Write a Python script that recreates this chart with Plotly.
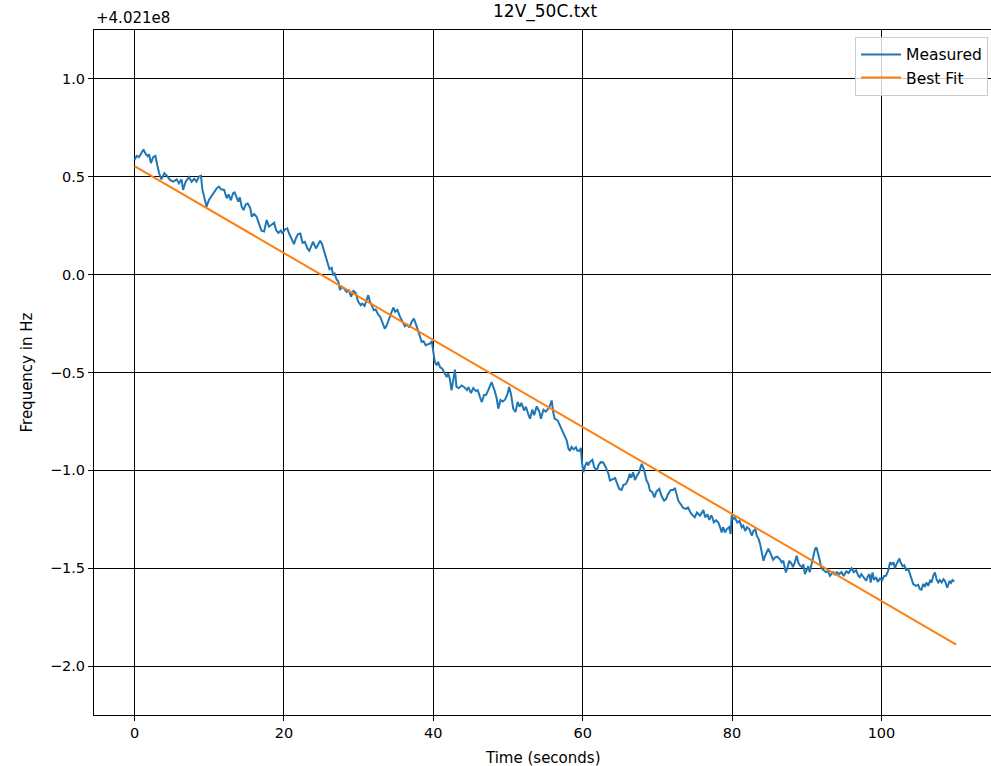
import plotly.graph_objects as go

# ---- data (frequency offset from 4.021e8 Hz) ----
time_s = [0.0, 0.3, 0.6, 0.87, 1.2, 1.5, 1.75, 1.95, 2.2, 2.5, 2.8, 3.05, 3.3, 3.6, 4.0, 4.35, 4.75, 5.2, 5.65, 5.95,
          6.3, 6.5, 6.85, 7.3, 7.65, 8.0, 8.3, 8.6, 8.9, 9.1, 9.4, 9.65, 9.95, 10.3, 10.7, 11.0, 11.3, 11.6, 12.0, 12.35,
          12.6, 12.9, 13.2, 13.4, 13.9, 14.1, 14.35, 14.6, 14.9, 15.15, 15.5, 15.7, 16.0, 16.35, 16.65, 17.0, 17.35, 17.7, 18.0, 18.4,
          18.7, 18.95, 19.25, 19.6, 19.8, 20.15, 20.45, 20.7, 21.05, 21.35, 21.6, 21.9, 22.2, 22.5, 22.8, 23.15, 23.4, 23.7, 23.9, 24.3,
          24.6, 24.85, 25.1, 25.35, 25.65, 25.95, 26.1, 26.4, 26.6, 26.8, 27.05, 27.3, 27.5, 27.75, 28.05, 28.4, 28.65, 29.0, 29.3, 29.6,
          29.95, 30.3, 30.5, 30.8, 31.1, 31.3, 31.5, 31.8, 32.05, 32.3, 32.6, 32.9, 33.2, 33.5, 33.7, 34.0, 34.3, 34.65, 34.9, 35.2,
          35.55, 35.9, 36.2, 36.5, 36.8, 37.1, 37.4, 37.8, 38.1, 38.45, 38.7, 39.0, 39.25, 39.55, 39.8, 40.0, 40.2, 40.45, 40.65, 40.9,
          41.2, 41.45, 41.8, 42.0, 42.2, 42.45, 42.7, 42.9, 43.1, 43.4, 43.8, 44.15, 44.5, 44.7, 45.05, 45.35, 45.7, 45.95, 46.25, 46.5,
          46.8, 47.05, 47.35, 47.6, 47.8, 48.2, 48.5, 48.7, 49.0, 49.3, 49.6, 49.95, 50.15, 50.4, 50.7, 51.0, 51.3, 51.55, 51.8, 52.15,
          52.4, 52.7, 52.95, 53.25, 53.5, 53.85, 54.2, 54.4, 54.75, 55.05, 55.4, 55.6, 55.85, 56.05, 56.25, 56.65, 56.95, 57.3, 57.65, 57.85,
          58.1, 58.3, 58.5, 58.8, 59.1, 59.3, 59.6, 59.75, 59.9, 60.1, 60.3, 60.55, 60.75, 60.95, 61.3, 61.55, 61.9, 62.1, 62.4, 62.75,
          63.1, 63.45, 63.65, 64.0, 64.35, 64.55, 64.9, 65.2, 65.45, 65.8, 66.1, 66.3, 66.5, 66.75, 67.0, 67.25, 67.55, 67.9, 68.15, 68.35,
          68.55, 68.8, 69.0, 69.3, 69.6, 69.85, 70.25, 70.55, 70.9, 71.15, 71.45, 71.8, 72.1, 72.35, 72.55, 72.8, 73.1, 73.45, 73.8, 74.1,
          74.5, 75.0, 75.3, 75.7, 75.9, 76.15, 76.4, 76.7, 76.95, 77.2, 77.35, 77.55, 77.85, 78.15, 78.4, 78.6, 78.8, 79.05, 79.3, 79.6,
          79.8, 79.95, 80.15, 80.35, 80.7, 81.0, 81.3, 81.5, 81.75, 82.0, 82.3, 82.65, 82.85, 83.1, 83.3, 83.55, 83.75, 83.95, 84.2, 84.4,
          84.65, 84.85, 85.1, 85.3, 85.5, 85.75, 86.05, 86.35, 86.65, 86.85, 87.1, 87.2, 87.4, 87.65, 87.95, 88.15, 88.4, 88.65, 88.85, 89.1,
          89.35, 89.55, 89.75, 90.0, 90.2, 90.4, 90.6, 90.85, 91.1, 91.3, 91.5, 91.75, 91.95, 92.3, 92.55, 92.85, 93.1, 93.3, 93.55, 93.75,
          94.0, 94.35, 94.65, 94.95, 95.3, 95.6, 96.0, 96.3, 96.6, 96.9, 97.1, 97.3, 97.6, 97.95, 98.2, 98.4, 98.55, 98.8, 99.0, 99.3,
          99.5, 99.8, 100.1, 100.35, 100.6, 100.9, 101.15, 101.35, 101.6, 101.8, 102.0, 102.25, 102.4, 102.55, 102.85, 103.05, 103.3, 103.6, 103.8, 104.0,
          104.25, 104.6, 104.9, 105.15, 105.35, 105.6, 105.8, 106.0, 106.25, 106.5, 106.7, 106.95, 107.15, 107.4, 107.6, 107.8, 108.05, 108.3, 108.5, 108.8,
          109.1, 109.3, 109.5, 109.75]

freq_measured = [0.586, 0.607, 0.600, 0.617, 0.640, 0.617, 0.605, 0.615, 0.570, 0.600, 0.607, 0.560, 0.518, 0.487, 0.518, 0.505, 0.484, 0.475, 0.487, 0.467,
                 0.487, 0.433, 0.475, 0.498, 0.475, 0.490, 0.475, 0.500, 0.505, 0.433, 0.390, 0.347, 0.380, 0.400, 0.424, 0.441, 0.450, 0.436, 0.433, 0.390,
                 0.410, 0.380, 0.416, 0.420, 0.373, 0.395, 0.347, 0.330, 0.360, 0.364, 0.340, 0.296, 0.310, 0.296, 0.262, 0.224, 0.220, 0.279, 0.245, 0.255,
                 0.265, 0.228, 0.214, 0.225, 0.210, 0.231, 0.236, 0.210, 0.177, 0.156, 0.185, 0.207, 0.210, 0.163, 0.168, 0.134, 0.122, 0.146, 0.168, 0.134,
                 0.160, 0.173, 0.157, 0.125, 0.091, 0.040, 0.028, 0.035, -0.003, 0.005, -0.025, -0.035, -0.079, -0.062, -0.071, -0.088, -0.076, -0.113, -0.083, -0.093,
                 -0.139, -0.156, -0.148, -0.160, -0.122, -0.105, -0.135, -0.158, -0.182, -0.178, -0.202, -0.216, -0.242, -0.276, -0.265, -0.233, -0.208, -0.168, -0.190, -0.180,
                 -0.216, -0.240, -0.264, -0.255, -0.270, -0.242, -0.224, -0.267, -0.300, -0.344, -0.340, -0.361, -0.356, -0.352, -0.340, -0.395, -0.446, -0.463, -0.446, -0.472,
                 -0.480, -0.498, -0.523, -0.505, -0.530, -0.591, -0.532, -0.485, -0.574, -0.580, -0.566, -0.575, -0.590, -0.575, -0.605, -0.580, -0.595, -0.590, -0.626, -0.651,
                 -0.615, -0.615, -0.591, -0.566, -0.549, -0.591, -0.634, -0.685, -0.640, -0.648, -0.639, -0.608, -0.574, -0.610, -0.685, -0.702, -0.650, -0.675, -0.655, -0.694,
                 -0.675, -0.711, -0.736, -0.690, -0.718, -0.673, -0.700, -0.736, -0.690, -0.700, -0.685, -0.670, -0.643, -0.702, -0.737, -0.745, -0.770, -0.805, -0.830, -0.847,
                 -0.890, -0.900, -0.880, -0.893, -0.882, -0.900, -0.900, -0.885, -0.958, -1.010, -0.980, -0.958, -0.975, -0.958, -0.946, -0.985, -1.000, -0.975, -0.958, -0.960,
                 -0.985, -1.018, -1.052, -1.045, -1.040, -1.061, -1.095, -1.100, -1.075, -1.069, -1.045, -1.018, -1.038, -1.010, -1.050, -1.028, -1.010, -0.967, -0.990, -1.020,
                 -1.052, -1.070, -1.103, -1.110, -1.138, -1.110, -1.095, -1.130, -1.155, -1.147, -1.120, -1.100, -1.100, -1.090, -1.120, -1.155, -1.172, -1.192, -1.197, -1.190,
                 -1.220, -1.240, -1.215, -1.231, -1.220, -1.202, -1.240, -1.225, -1.253, -1.230, -1.240, -1.266, -1.255, -1.266, -1.291, -1.317, -1.290, -1.317, -1.300, -1.290,
                 -1.325, -1.230, -1.250, -1.240, -1.266, -1.258, -1.291, -1.283, -1.310, -1.290, -1.300, -1.334, -1.310, -1.300, -1.334, -1.350, -1.376, -1.419, -1.462, -1.440,
                 -1.419, -1.400, -1.420, -1.445, -1.457, -1.445, -1.441, -1.452, -1.470, -1.462, -1.505, -1.522, -1.500, -1.462, -1.476, -1.495, -1.470, -1.436, -1.470, -1.487,
                 -1.495, -1.480, -1.530, -1.505, -1.490, -1.520, -1.490, -1.453, -1.402, -1.394, -1.420, -1.462, -1.500, -1.510, -1.520, -1.515, -1.539, -1.530, -1.520, -1.535,
                 -1.520, -1.530, -1.520, -1.540, -1.516, -1.525, -1.500, -1.520, -1.510, -1.539, -1.546, -1.530, -1.546, -1.564, -1.540, -1.530, -1.573, -1.522, -1.560, -1.546,
                 -1.570, -1.553, -1.560, -1.540, -1.539, -1.513, -1.470, -1.480, -1.470, -1.500, -1.480, -1.462, -1.450, -1.470, -1.490, -1.485, -1.510, -1.505, -1.530, -1.556,
                 -1.581, -1.590, -1.585, -1.607, -1.610, -1.580, -1.595, -1.573, -1.590, -1.564, -1.573, -1.536, -1.522, -1.560, -1.573, -1.560, -1.573, -1.556, -1.565, -1.600,
                 -1.565, -1.575, -1.560, -1.568]

fit_time = [0.0, 110.0]
fit_freq = [0.555, -1.890]

x_ticks = [0, 20, 40, 60, 80, 100]
x_tick_labels = ["0", "20", "40", "60", "80", "100"]
y_ticks = [1.0, 0.5, 0.0, -0.5, -1.0, -1.5, -2.0]
y_tick_labels = ["1.0", "0.5", "0.0", "\u22120.5", "\u22121.0", "\u22121.5", "\u22122.0"]

title_text = "12V_50C.txt"
offset_text = "+4.021e8"
x_label = "Time (seconds)"
y_label = "Frequency in Hz"

FONT = "DejaVu Sans"

fig = go.Figure()
fig.add_trace(go.Scatter(x=time_s, y=freq_measured, mode="lines", name="Measured",
                         line=dict(color="#1f77b4", width=2)))
fig.add_trace(go.Scatter(x=fit_time, y=fit_freq, mode="lines", name="Best Fit",
                         line=dict(color="#ff7f0e", width=2)))

axis_common = dict(showline=True, linecolor="black", linewidth=1, ticks="outside", ticklen=5,
                   tickcolor="black", tickwidth=1, showgrid=True, gridcolor="black", gridwidth=1,
                   zeroline=False, tickfont=dict(family=FONT, size=14.5, color="black"))

fig.update_xaxes(range=[-5.42, 114.66], tickvals=x_ticks, ticktext=x_tick_labels, mirror=True,
                 **axis_common)
fig.update_yaxes(range=[-2.25, 1.25], tickvals=y_ticks, ticktext=y_tick_labels, mirror=False,
                 **axis_common)

fig.update_layout(
    width=991, height=766,
    margin=dict(l=94, r=0, t=30, b=51),
    paper_bgcolor="white", plot_bgcolor="white",
    font=dict(family=FONT, size=15, color="black"),
    showlegend=True,
    legend=dict(x=0.9967, y=0.99, xanchor="right", yanchor="top", itemwidth=40,
                bgcolor="rgba(255,255,255,0.8)", bordercolor="#cccccc", borderwidth=1,
                font=dict(family=FONT, size=15.5, color="black")),
    annotations=[
        dict(text=title_text, xref="x", yref="paper", x=55, y=1, xanchor="center", yanchor="bottom",
             yshift=6, showarrow=False, font=dict(family=FONT, size=17, color="black")),
        dict(text=offset_text, xref="paper", yref="paper", x=0, y=1, xanchor="left", yanchor="bottom",
             yshift=1, showarrow=False, font=dict(family=FONT, size=15, color="black")),
        dict(text=x_label, xref="paper", yref="paper", x=0.5, y=0, xanchor="center", yanchor="top",
             yshift=-32, showarrow=False, font=dict(family=FONT, size=15, color="black")),
        dict(text=y_label, xref="paper", yref="paper", x=-0.0747, y=0.5, xanchor="center", yanchor="middle",
             textangle=-90, showarrow=False, font=dict(family=FONT, size=15, color="black")),
    ],
)

fig.write_html("out.html")
